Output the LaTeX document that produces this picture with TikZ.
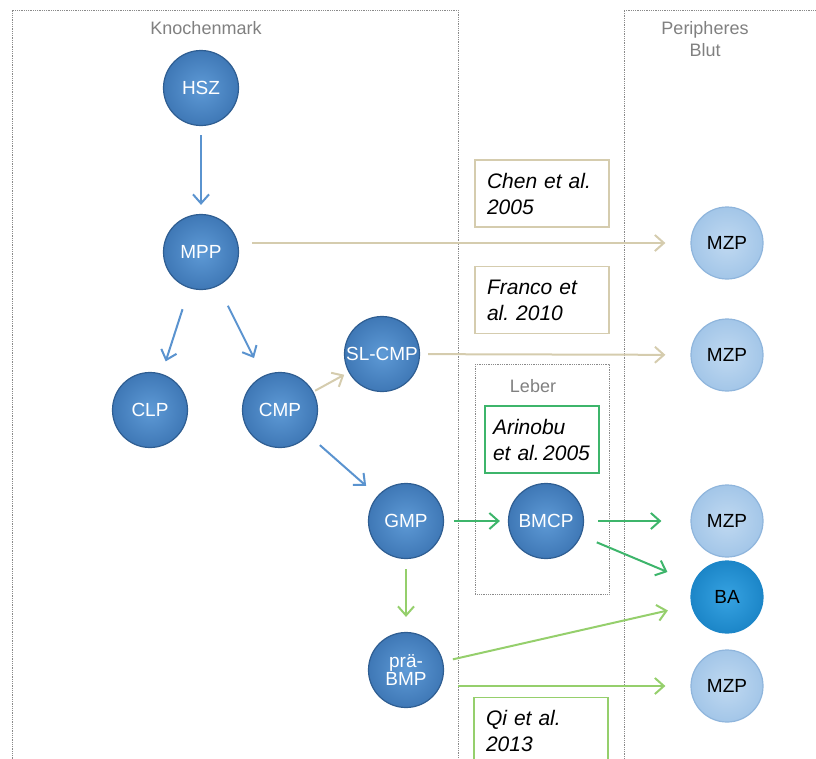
\documentclass[tikz,border=0pt]{standalone}
\usepackage{fontspec}
\setmainfont{Liberation Sans}
\usetikzlibrary{arrows.meta}

\definecolor{zellblau}{HTML}{3F78B6}
\definecolor{zellhell}{HTML}{5E9AD6}
\definecolor{zellrand}{HTML}{2F5E92}
\definecolor{mzpblau}{HTML}{A3C6E8}
\definecolor{mzphell}{HTML}{C0D9F1}
\definecolor{mzprand}{HTML}{8FB5DC}
\definecolor{bablau}{HTML}{1C86C8}
\definecolor{bahell}{HTML}{37A3E2}
\definecolor{pfeilblau}{HTML}{5A93CF}
\definecolor{beige}{HTML}{D5CCAE}
\definecolor{gruen}{HTML}{3DB56B}
\definecolor{hellgruen}{HTML}{95CF6C}
\definecolor{rahmen}{HTML}{8A8A8A}

\begin{document}
\begin{tikzpicture}[x=1pt,y=-1pt,
  >={Straight Barb[length=9pt,width=16pt]},
  zelle/.style={circle, minimum size=75pt, inner sep=0pt, draw=zellrand, line width=1.2pt,
    inner color=zellhell, outer color=zellblau, text=white, align=center,
    font=\fontsize{19}{20}\selectfont},
  blut/.style={zelle, minimum size=72pt, draw=mzprand, inner color=mzphell, outer color=mzpblau, text=black},
  basophil/.style={blut, draw=bablau, inner color=bahell, outer color=bablau},
  bereich/.style={draw=rahmen, densely dotted, line width=0.8pt},
  titel/.style={text=gray, align=center, font=\fontsize{18}{22}\selectfont},
  quelle/.style={draw, line width=1.5pt, minimum height=67pt, inner xsep=12pt,
    text width=110pt, align=left, font=\fontsize{21}{26}\selectfont\itshape},
  pfeil/.style={->, line width=2pt}]

  \useasboundingbox (0,0) rectangle (816,758);

  % Bereiche
  \draw[bereich] (12,770) -- (12,10) -- (458,10) -- (458,770);
  \draw[bereich] (830,10) -- (624,10) -- (624,770);
  \draw[bereich] (475,364) rectangle (609,594);
  \node[titel] (knochenmark) at (206,28) {Knochenmark};
  \node[titel] (blut) at (705,39) {Peripheres\\Blut};
  \node[titel] (leber) at (533,386) {Leber};

  % Zellen im Knochenmark
  \node[zelle] (hsz) at (201,88) {HSZ};
  \node[zelle] (mpp) at (201,252) {MPP};
  \node[zelle] (clp) at (150,410) {CLP};
  \node[zelle] (cmp) at (280,410) {CMP};
  \node[zelle] (slcmp) at (382,354) {SL-CMP};
  \node[zelle] (gmp) at (406,521) {GMP};
  \node[zelle] (prabmp) at (406,670) {prä-\\[-2pt]BMP};
  \node[zelle] (bmcp) at (546,521) {BMCP};

  % Zellen im Blut
  \node[blut] (mzpa) at (727,243) {MZP};
  \node[blut] (mzpb) at (727,355) {MZP};
  \node[blut] (mzpc) at (727,521) {MZP};
  \node[basophil] (ba) at (727,597) {BA};
  \node[blut] (mzpd) at (727,686) {MZP};

  % Quellen
  \node[quelle, draw=beige] (chen) at (542,193.5) {Chen et al.\\2005};
  \node[quelle, draw=beige] (franco) at (542,300) {Franco et\\al.~2010};
  \node[quelle, draw=gruen, inner xsep=8pt, text width=98pt] (arinobu) at (542,439.5) {Arinobu\\et~al.\,2005};
  \node[quelle, draw=hellgruen] (qi) at (541,731) {Qi et al.\\2013};

  % Pfeile
  \draw[pfeil, pfeilblau, shorten <=9pt, shorten >=9pt] (hsz) -- (mpp);
  \draw[pfeil, pfeilblau, shorten <=22pt, shorten >=13pt] (mpp) -- (clp);
  \draw[pfeil, pfeilblau, shorten <=22pt, shorten >=20pt] (mpp) -- (cmp);
  \draw[pfeil, beige, shorten <=2pt, shorten >=5pt] (cmp) -- (slcmp);
  \draw[pfeil, pfeilblau, shorten <=15pt, shorten >=15pt] (cmp) -- (gmp);
  \draw[pfeil, beige, shorten <=13pt, shorten >=25pt] (mpp.east |- mzpa) -- (mzpa);
  \draw[pfeil, beige, shorten <=8pt, shorten >=25pt] (slcmp) -- (mzpb);
  \draw[pfeil, gruen, shorten <=10pt, shorten >=8pt] (gmp) -- (bmcp);
  \draw[pfeil, gruen, shorten <=14pt, shorten >=29pt] (bmcp) -- (mzpc);
  \draw[pfeil, gruen, shorten <=17pt, shorten >=28pt] (bmcp) -- (ba);
  \draw[pfeil, hellgruen, shorten <=10pt, shorten >=15pt] (gmp) -- (prabmp);
  \draw[pfeil, hellgruen, shorten <=10pt, shorten >=24pt] (prabmp) -- (ba);
  \draw[pfeil, hellgruen, shorten <=14pt, shorten >=25pt] (prabmp.east |- mzpd) -- (mzpd);
\end{tikzpicture}
\end{document}
